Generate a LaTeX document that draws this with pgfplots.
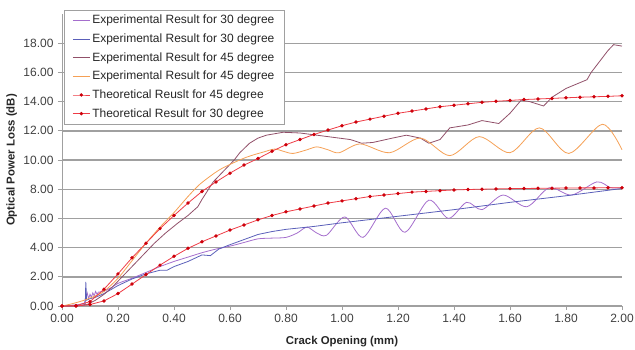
\documentclass[border=0pt]{standalone}
\usepackage{pgfplots}
\pgfplotsset{compat=1.18}
\usepackage{fontspec}
\setmainfont{Liberation Sans}
\definecolor{cLav}{RGB}{165,110,205}
\definecolor{cBlue}{RGB}{90,95,185}
\definecolor{cBrown}{RGB}{145,80,105}
\definecolor{cOrange}{RGB}{245,160,85}
\definecolor{cRed}{RGB}{238,60,70}
\definecolor{cDot}{RGB}{205,0,10}
\definecolor{cGrid}{RGB}{160,160,160}
\begin{document}
\begin{tikzpicture}
\begin{axis}[
  scale only axis,
  width=560pt, height=292pt,
  xmin=0, xmax=2, ymin=0, ymax=20,
  xtick={0,0.2,...,2.01}, ytick={0,2,...,18},
  axis lines*=left,
  axis line style={-, draw=cGrid, line width=0.8pt},
  tick style={draw=cGrid, line width=0.8pt},
  tick align=outside, major tick length=4pt,
  ymajorgrids,
  major grid style={draw=cGrid, line width=1.4pt},
  /pgf/number format/assume math mode=true,
  /pgf/number format/.cd, fixed, fixed zerofill, precision=2, /pgfplots/.cd,
  ticklabel style={font=\fontsize{12}{14}\selectfont, text=black!75},
  xticklabel shift=1pt,
  yticklabel shift=1pt,
  xlabel={\bfseries Crack Opening (mm)},
  ylabel={\bfseries Optical Power Loss (dB)},
  label style={font=\fontsize{11.4}{13}\selectfont, text=black!85},
  xlabel style={at={(rel axis cs:0.5,0)}, anchor=center, yshift=-36pt},
  ylabel style={at={(axis description cs:-0.09,0.5)}, anchor=center},
  legend style={at={(0.004,1.014)}, anchor=north west, draw=cGrid, fill=white,
    font=\fontsize{12}{14}\selectfont, text=black!85, row sep=4.5pt,
    inner xsep=8pt, inner ysep=3pt},
  legend cell align=left,
  clip=false,
]
% Exp 30 (1) noisy start (no legend)
\addplot[cLav, line width=0.8pt, forget plot] coordinates {
(0.00,0.0) (0.03,0.05) (0.06,0.1) (0.08,0.2) (0.09,0.9) (0.095,0.5) (0.10,0.8) (0.105,0.6)
(0.11,0.9) (0.115,0.7) (0.12,1.0) (0.125,0.8) (0.13,0.95) (0.15,1.0) (0.18,1.3)};
% Exp 30 (1)
\addplot[cLav, line width=0.8pt, smooth, tension=0.5] coordinates {
(0.18,1.3) (0.20,1.55) (0.25,1.9) (0.30,2.3) (0.35,2.7) (0.40,3.05) (0.45,3.35) (0.50,3.65)
(0.55,3.9) (0.60,4.1) (0.65,4.35) (0.70,4.6) (0.75,4.65) (0.80,4.7) (0.84,5.0) (0.875,5.4)
(0.91,5.0) (0.945,4.85) (1.01,6.1) (1.075,4.7) (1.155,6.7) (1.225,5.05) (1.31,7.25) (1.38,6.0)
(1.445,7.1) (1.50,6.6) (1.575,7.6) (1.66,6.8) (1.74,8.1) (1.82,7.6) (1.91,8.5) (1.96,8.1) (2.00,8.1)};
\addlegendentry{Experimental Result for 30 degree}
% Exp 30 (2)
\addplot[cBlue, line width=0.8pt] coordinates {
(0.00,0.0) (0.04,0.0) (0.07,0.05) (0.083,0.1) (0.085,1.65) (0.088,0.4) (0.10,0.5) (0.12,0.6)
(0.15,0.85) (0.20,1.4) (0.25,1.85) (0.30,2.2) (0.35,2.45) (0.375,2.45) (0.40,2.7) (0.45,3.05)
(0.50,3.5) (0.53,3.45) (0.56,3.9) (0.60,4.2) (0.65,4.55) (0.70,4.9) (0.75,5.1) (0.80,5.25)
(0.85,5.35) (0.90,5.45) (1.00,5.7) (1.135,6.0) (1.40,6.6) (1.60,7.1) (1.80,7.55) (1.90,7.8) (2.00,8.05)};
\addlegendentry{Experimental Result for 30 degree}
% Exp 45 (1)
\addplot[cBrown, line width=0.8pt] coordinates {
(0.00,0.0) (0.05,0.0) (0.09,0.1) (0.12,0.4) (0.15,0.8) (0.18,1.3) (0.21,1.9) (0.25,2.7)
(0.29,3.5) (0.33,4.3) (0.37,5.0) (0.415,5.7) (0.45,6.2) (0.485,6.8) (0.50,7.3) (0.52,7.9)
(0.54,8.5) (0.565,9.0) (0.59,9.5) (0.615,10.0) (0.635,10.5) (0.67,11.15) (0.70,11.5) (0.73,11.7)
(0.79,11.9) (0.85,11.85) (0.91,11.7) (0.97,11.55) (1.03,11.4) (1.07,11.15) (1.11,11.2) (1.18,11.5)
(1.23,11.7) (1.28,11.5) (1.31,11.15) (1.35,11.4) (1.385,12.2) (1.45,12.4) (1.50,12.7) (1.56,12.5)
(1.60,13.2) (1.64,14.1) (1.67,14.0) (1.72,13.7) (1.75,14.3) (1.80,14.9) (1.875,15.5) (1.89,16.0)
(1.95,17.5) (1.97,17.9) (2.00,17.8)};
\addlegendentry{Experimental Result for 45 degree}
% Exp 45 (2)
\addplot[cOrange, line width=0.8pt, smooth, tension=0.5] coordinates {
(0.00,0.0) (0.035,0.15) (0.08,0.4) (0.12,0.7) (0.15,1.0) (0.20,1.9) (0.25,3.1) (0.30,4.3)
(0.35,5.4) (0.40,6.4) (0.45,7.5) (0.49,8.3) (0.53,8.9) (0.56,9.3) (0.60,9.7) (0.66,10.2)
(0.72,10.55) (0.76,10.75) (0.79,10.6) (0.825,10.45) (0.875,10.7) (0.91,10.9) (0.95,10.7) (0.99,10.5)
(1.065,11.1) (1.17,10.5) (1.28,11.5) (1.385,10.3) (1.49,11.6) (1.60,10.5) (1.705,12.2) (1.81,10.45)
(1.93,12.45) (2.00,10.7)};
\addlegendentry{Experimental Result for 45 degree}
% Theoretical 45
\addplot[cRed, line width=0.8pt, mark=*, mark size=1.3pt, mark options={fill=cDot, draw=cDot}] coordinates {
(0.00,0.0) (0.05,0.02) (0.10,0.3) (0.15,1.15) (0.20,2.2) (0.25,3.3) (0.30,4.3) (0.35,5.3)
(0.40,6.2) (0.45,7.05) (0.50,7.85) (0.55,8.5) (0.60,9.1) (0.65,9.65) (0.70,10.1) (0.75,10.6)
(0.80,11.05) (0.85,11.4) (0.90,11.75) (0.95,12.05) (1.00,12.35) (1.05,12.6) (1.10,12.8) (1.15,13.0)
(1.20,13.2) (1.25,13.35) (1.30,13.5) (1.35,13.65) (1.40,13.75) (1.45,13.85) (1.50,13.95) (1.55,14.02)
(1.60,14.08) (1.65,14.14) (1.70,14.18) (1.75,14.22) (1.80,14.26) (1.85,14.3) (1.90,14.33) (1.95,14.36) (2.00,14.4)};
\addlegendentry{Theoretical Reuslt for 45 degree}
% Theoretical 30
\addplot[cRed, line width=0.8pt, mark=*, mark size=1.3pt, mark options={fill=cDot, draw=cDot}] coordinates {
(0.00,0.0) (0.05,0.0) (0.10,0.1) (0.15,0.35) (0.20,0.85) (0.25,1.5) (0.30,2.15) (0.35,2.8)
(0.40,3.4) (0.45,3.95) (0.50,4.4) (0.55,4.8) (0.60,5.2) (0.65,5.55) (0.70,5.9) (0.75,6.2)
(0.80,6.45) (0.85,6.65) (0.90,6.85) (0.95,7.05) (1.00,7.2) (1.05,7.35) (1.10,7.5) (1.15,7.6)
(1.20,7.7) (1.25,7.8) (1.30,7.85) (1.35,7.9) (1.40,7.95) (1.45,7.98) (1.50,8.0) (1.55,8.02)
(1.60,8.04) (1.65,8.05) (1.70,8.06) (1.75,8.07) (1.80,8.08) (1.85,8.09) (1.90,8.09) (1.95,8.1) (2.00,8.1)};
\addlegendentry{Theoretical Result for 30 degree}
\end{axis}
\pgfresetboundingbox
\path (-62pt,-43pt) rectangle (573pt,306pt);
\end{tikzpicture}
\end{document}
